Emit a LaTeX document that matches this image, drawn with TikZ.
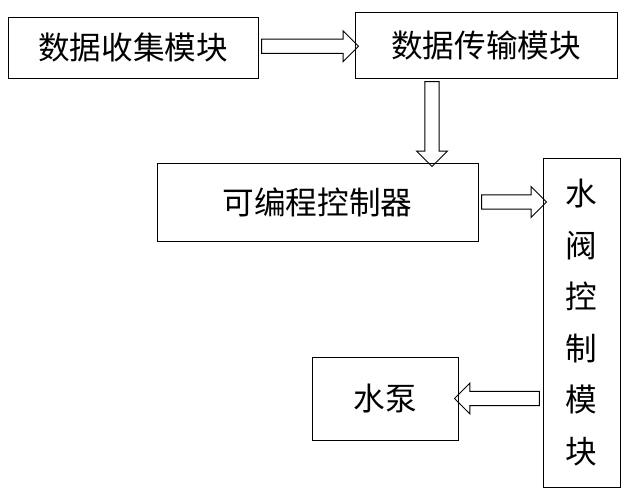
\documentclass[tikz,border=0pt]{standalone}
\usepackage{fontspec}
\setmainfont{Noto Sans CJK SC}
\usetikzlibrary{shapes.arrows,positioning,calc}

\begin{document}
\begin{tikzpicture}[x=0.03cm, y=-0.03cm,
    box/.style={rectangle, draw, thick, inner sep=0pt, align=center, font=\fontsize{27pt}{32pt}\selectfont},
    hollow/.style={single arrow, draw, thick, inner sep=0.2cm, single arrow head extend=0.25cm, single arrow head indent=0pt, anchor=center}
]
\useasboundingbox (0,0) rectangle (642,500);
\node[box, minimum width=250*0.03cm, minimum height=61*0.03cm] (collect) at (133,47.5) {数据收集模块};
\node[box, minimum width=262*0.03cm, minimum height=66*0.03cm] (trans) at (486,45) {数据传输模块};
\node[box, minimum width=321*0.03cm, minimum height=78*0.03cm] (plc) at (317.5,202) {可编程控制器};
\node[box, minimum width=77*0.03cm, minimum height=329*0.03cm, font=\fontsize{27pt}{44pt}\selectfont] (valve) at (581.5,322.5) {水\\阀\\控\\制\\模\\块};
\node[box, minimum width=146*0.03cm, minimum height=83*0.03cm] (pump) at (385,398.5) {水泵};

% hollow arrows
\node[hollow, minimum height=97*0.03cm] (a1) at ($(collect.east)!0.5!(trans.west)$) {};
\node[hollow, minimum height=85*0.03cm, rotate=-90] (a2) at (432,120.5) {};
\node[hollow, minimum height=65*0.03cm] (a3) at ($(plc.east)!0.5!(plc.east -| valve.west)$) {};
\node[hollow, minimum height=85*0.03cm, rotate=180] (a4) at ($(pump.east)!0.5!(pump.east -| valve.west)$) {};
\end{tikzpicture}
\end{document}
